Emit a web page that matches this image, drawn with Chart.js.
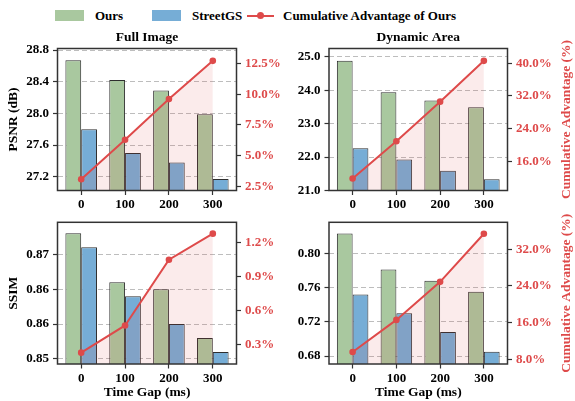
<!DOCTYPE html>
<html>
<head>
<meta charset="utf-8">
<script src="https://cdn.jsdelivr.net/npm/chart.js@4.4.0/dist/chart.umd.min.js"></script>
<style>
  body { margin: 0; background: #fff; }
  #wrap { position: relative; width: 575px; height: 401px; overflow: hidden;
          font-family: 'Liberation Serif', 'Times New Roman', serif; font-weight: bold; font-size: 13px; color: #000; }
  canvas { position: absolute; }
  .sw { position: absolute; }
  .lt { position: absolute; line-height: 13px; white-space: nowrap; }
</style>
</head>
<body>
<div id="wrap">
  <!-- legend -->
  <div class="sw" style="left:55px;top:10px;width:29px;height:11px;background:#a9c89f"></div>
  <div class="lt" style="left:95px;top:9px">Ours</div>
  <div class="sw" style="left:152px;top:10px;width:29px;height:11px;background:#76add6"></div>
  <div class="lt" style="left:192px;top:9px">StreetGS</div>
  <div class="sw" style="left:247px;top:14.5px;width:27px;height:2px;background:#de4a4a"></div>
  <div class="sw" style="left:256.5px;top:12px;width:7px;height:7px;border-radius:50%;background:#de4a4a"></div>
  <div class="lt" style="left:283px;top:9px">Cumulative Advantage of Ours</div>

  <canvas id="fullPsnr" width="287" height="191" style="left:0;top:24px"></canvas>
  <canvas id="dynPsnr" width="288" height="191" style="left:287px;top:24px"></canvas>
  <canvas id="fullSsim" width="287" height="195" style="left:0;top:206px"></canvas>
  <canvas id="dynSsim" width="288" height="195" style="left:287px;top:206px"></canvas>
</div>
<script>
// time gaps (ms)
const timeGaps = [0, 100, 200, 300];

// PSNR, full image
const fullPsnrOurs = [28.67, 28.42, 28.29, 27.99];
const fullPsnrStreet = [27.80, 27.50, 27.38, 27.17];
const fullPsnrAdv = [3.1, 6.3, 9.6, 12.7];
// PSNR, dynamic area
const dynPsnrOurs = [24.88, 23.94, 23.69, 23.49];
const dynPsnrStreet = [22.26, 21.93, 21.59, 21.34];
const dynPsnrAdv = [11.8, 20.9, 30.6, 40.6];
// SSIM, full image
const fullSsimOurs = [0.873, 0.866, 0.865, 0.858];
const fullSsimStreet = [0.871, 0.864, 0.860, 0.856];
const fullSsimAdv = [0.23, 0.47, 1.05, 1.28];
// SSIM, dynamic area
const dynSsimOurs = [0.823, 0.781, 0.768, 0.755];
const dynSsimStreet = [0.752, 0.730, 0.708, 0.685];
const dynSsimAdv = [9.6, 16.6, 24.9, 35.4];

// tick labels
const fullPsnrTicks = [27.2, 27.6, 28.0, 28.4, 28.8];
const dynPsnrTicks = [21, 22, 23, 24, 25];
const fullSsimTicks = [0.855, 0.86, 0.865, 0.87];
const dynSsimTicks = [0.68, 0.72, 0.76, 0.80];
const fullPsnrAdvTicks = [2.5, 5, 7.5, 10, 12.5];
const dynPsnrAdvTicks = [16, 24, 32, 40];
const fullSsimAdvTicks = [0.3, 0.6, 0.9, 1.2];
const dynSsimAdvTicks = [8, 16, 24, 32];

const FONT = "'Liberation Serif', 'Times New Roman', serif";
const GREEN = '#a9c89f', BLUE = '#76add6', RED = '#de4a4a', EDGE = '#2e2e2e';

Chart.defaults.font.family = FONT;
Chart.defaults.font.weight = 'bold';
Chart.defaults.font.size = 13;

const pts = ys => timeGaps.map((x, i) => ({x: x, y: ys[i]}));
const fixTicks = vals => scale => { scale.ticks = vals.map(v => ({value: v})); };

// frame, panel title and right axis title (reads bottom to top like matplotlib)
const panelDeco = {
  id: 'panelDeco',
  afterDatasetsDraw(chart, args, o) {
    const {ctx, chartArea: a} = chart;
    ctx.save();
    ctx.strokeStyle = '#333';
    ctx.lineWidth = 1.5;
    ctx.strokeRect(a.left, a.top, a.right - a.left, a.bottom - a.top);
    ctx.font = 'bold 13.5px ' + FONT;
    ctx.textAlign = 'center';
    ctx.textBaseline = 'alphabetic';
    if (o.title) {
      ctx.fillStyle = '#000';
      ctx.fillText(o.title, (a.left + a.right) / 2, a.top - 8);
    }
    if (o.rightTitle) {
      ctx.fillStyle = RED;
      ctx.translate(chart.width - 5.5, (a.top + a.bottom) / 2);
      ctx.rotate(-Math.PI / 2);
      ctx.fillText(o.rightTitle, 0, 0);
    }
    ctx.restore();
  }
};

function panel(id, c) {
  new Chart(document.getElementById(id), {
    type: 'bar',
    data: {
      datasets: [
        { type: 'line', label: 'Cumulative Advantage of Ours', data: pts(c.adv), yAxisID: 'y1',
          borderColor: RED, backgroundColor: 'rgba(222,74,74,0.11)', fill: 'start',
          borderWidth: 2, pointRadius: 3.3, pointBackgroundColor: RED, pointBorderWidth: 0, order: 0 },
        { label: 'Ours', data: pts(c.ours), backgroundColor: GREEN, borderColor: EDGE,
          borderWidth: 1, borderSkipped: false, order: 1 },
        { label: 'StreetGS', data: pts(c.street), backgroundColor: BLUE, borderColor: EDGE,
          borderWidth: 1, borderSkipped: false, order: 1 }
      ]
    },
    options: {
      responsive: false,
      animation: false,
      devicePixelRatio: 1,
      layout: { padding: { top: c.top, left: 0, right: 0, bottom: 0 } },
      datasets: { bar: { categoryPercentage: 0.72, barPercentage: 1 } },
      plugins: {
        legend: { display: false },
        tooltip: { enabled: false },
        panelDeco: { title: c.title, rightTitle: c.rightTitle }
      },
      scales: {
        x: {
          type: 'linear', min: -54, max: 354, offset: false,
          afterBuildTicks: fixTicks(timeGaps),
          afterFit: s => { s.height = c.xh; },
          grid: { drawOnChartArea: false, drawTicks: true, offset: false, tickLength: 4.5, tickColor: '#333', tickWidth: 1.2 },
          border: { display: false },
          ticks: { color: '#000', padding: 2, callback: v => String(v) },
          title: { display: !!c.xTitle, text: c.xTitle, color: '#000', padding: { top: 0, bottom: 0 }, font: { size: 13.5 } }
        },
        y: {
          position: 'left', min: c.yMin, max: c.yMax,
          afterBuildTicks: fixTicks(c.yTicks),
          afterFit: s => { s.width = c.lw; },
          grid: { color: '#bdbdbd', lineWidth: 1, tickColor: '#333', tickLength: 4.5, tickWidth: 1.2 },
          border: { display: false, dash: [5, 3] },
          ticks: { color: '#000', padding: 4, callback: v => v.toFixed(c.yDec) },
          title: { display: !!c.yTitle, text: c.yTitle, color: '#000', padding: { top: 5, bottom: 0 }, font: { size: 13.5 } }
        },
        y1: {
          position: 'right', min: c.rMin, max: c.rMax,
          afterBuildTicks: fixTicks(c.rTicks),
          afterFit: s => { s.width = c.rw; },
          grid: { drawOnChartArea: false, tickColor: '#333', tickLength: 4.5, tickWidth: 1.2 },
          border: { display: false },
          ticks: { color: RED, padding: 4, callback: v => v.toFixed(1) + '%' }
        }
      }
    },
    plugins: [panelDeco]
  });
}

panel('fullPsnr', {
  ours: fullPsnrOurs, street: fullPsnrStreet, adv: fullPsnrAdv,
  yMin: 27.026, yMax: 28.819, yTicks: fullPsnrTicks, yDec: 1,
  rMin: 2.19, rMax: 13.70, rTicks: fullPsnrAdvTicks,
  top: 24.5, xh: 24.5, lw: 57.5, rw: 50.5,
  title: 'Full Image', yTitle: 'PSNR (dB)'
});
panel('dynPsnr', {
  ours: dynPsnrOurs, street: dynPsnrStreet, adv: dynPsnrAdv,
  yMin: 21.0, yMax: 25.245, yTicks: dynPsnrTicks, yDec: 1,
  rMin: 8.85, rMax: 43.62, rTicks: dynPsnrAdvTicks,
  top: 24.5, xh: 24.5, lw: 42, rw: 67.5,
  title: 'Dynamic Area', rightTitle: 'Cumulative Advantage (%)'
});
panel('fullSsim', {
  ours: fullSsimOurs, street: fullSsimStreet, adv: fullSsimAdv,
  yMin: 0.85428, yMax: 0.87458, yTicks: fullSsimTicks, yDec: 2,
  rMin: 0.13, rMax: 1.38, rTicks: fullSsimAdvTicks,
  top: 16.3, xh: 37, lw: 57.5, rw: 50.5,
  yTitle: 'SSIM', xTitle: 'Time Gap (ms)'
});
panel('dynSsim', {
  ours: dynSsimOurs, street: dynSsimStreet, adv: dynSsimAdv,
  yMin: 0.6707, yMax: 0.8362, yTicks: dynSsimTicks, yDec: 2,
  rMin: 6.97, rMax: 37.9, rTicks: dynSsimAdvTicks,
  top: 16.3, xh: 37, lw: 42, rw: 67.5,
  xTitle: 'Time Gap (ms)', rightTitle: 'Cumulative Advantage (%)'
});
</script>
</body>
</html>
